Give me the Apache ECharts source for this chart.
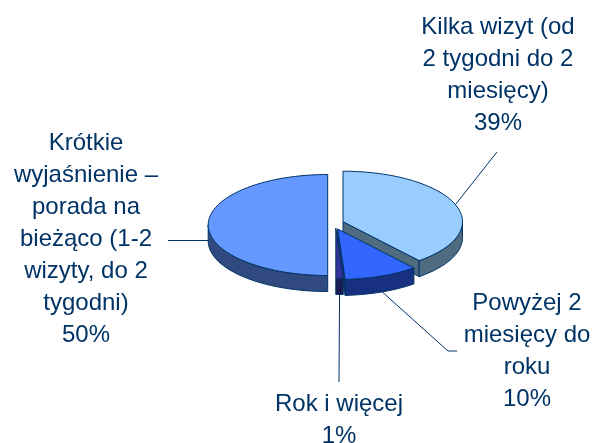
<!DOCTYPE html>
<html>
<head>
<meta charset="utf-8">
<style>
  html, body { margin: 0; padding: 0; background: #fff; }
  #chart { width: 593px; height: 443px; }
</style>
<script src="https://cdn.jsdelivr.net/npm/echarts@6/dist/echarts.min.js"></script>
</head>
<body>
<div id="chart"></div>
<script>
  // dane
  var categories = [
    'Kilka wizyt (od\n2 tygodni do 2\nmiesięcy)',
    'Powyżej 2\nmiesięcy do\nroku',
    'Rok i więcej',
    'Krótkie\nwyjaśnienie –\nporada na\nbieżąco (1-2\nwizyty, do 2\ntygodni)'
  ]
  var values = [39, 10, 1, 50]

  // wyglad
  var topColors = ['#99ccff', '#3366ff', '#333399', '#6699ff']
  var wallColors = ['#4f6b80', '#17307f', '#1a1a55', '#30497f']
  var lineColor = '#003366'
  var centerX = 335.5
  var centerY = 225
  var radiusX = 119.5
  var radiusY = 50.5
  var depth = 16
  var explode = [[7.5, -3.3], [2.2, 4], [0.3, 3], [-7.8, 0]]
  var labelCenters = [[498, 75.5], [527, 351], [339, 420.5], [86, 239.5]]
  var leaderEnds = [[[497, 152]], [[448, 351], [457, 351]], [[339, 382]], [[168, 240.5]]]
  var leaderOnWall = [0, 1, 1, 1]

  var total = values.reduce(function (a, b) { return a + b }, 0)

  function rad (deg) { return deg * Math.PI / 180 }

  // punkt na obwodzie, kat liczony od godziny 12 zgodnie z zegarem
  function rim (ax, ay, deg, drop) {
    return [ax + radiusX * Math.sin(rad(deg)), ay - radiusY * Math.cos(rad(deg)) + (drop || 0)]
  }

  function arc (ax, ay, from, to, drop) {
    var pts = []
    var steps = Math.max(2, Math.ceil((to - from) / 2))
    for (var i = 0; i <= steps; i++) {
      pts.push(rim(ax, ay, from + (to - from) * i / steps, drop))
    }
    return pts
  }

  function face (points, fill) {
    return {
      type: 'polygon',
      shape: { points: points },
      style: { fill: fill, stroke: lineColor, lineWidth: 1, lineJoin: 'round' }
    }
  }

  function renderSlice (params, api) {
    var i = params.dataIndex
    var before = values.slice(0, i).reduce(function (a, b) { return a + b }, 0)
    var start = before / total * 360
    var end = start + api.value(0) / total * 360
    var mid = (start + end) / 2
    var ax = centerX + explode[i][0]
    var ay = centerY + explode[i][1]
    var children = []

    // linia odniesienia
    var leader = [rim(ax, ay, mid, leaderOnWall[i] * (depth - 0.5))].concat(leaderEnds[i])
    children.push({
      type: 'polyline',
      shape: { points: leader },
      style: { fill: null, stroke: lineColor, lineWidth: 1 }
    })

    // sciany ciecia
    ;[start, end].forEach(function (deg, k) {
      var visible = k === 0 ? Math.sin(rad(deg)) < -0.01 : Math.sin(rad(deg)) > 0.01
      if (visible) {
        var p = rim(ax, ay, deg)
        children.push(face([[ax, ay], p, [p[0], p[1] + depth], [ax, ay + depth]], wallColors[i]))
      }
    })

    // sciana zewnetrzna, tylko przednia polowa
    var wallFrom = Math.max(start, 90)
    var wallTo = Math.min(end, 270)
    if (wallTo > wallFrom) {
      var upper = arc(ax, ay, wallFrom, wallTo, 0)
      var lower = arc(ax, ay, wallFrom, wallTo, depth).reverse()
      children.push(face(upper.concat(lower), wallColors[i]))
    }

    // wierzch
    children.push(face([[ax, ay]].concat(arc(ax, ay, start, end, 0)), topColors[i]))

    // etykieta
    children.push({
      type: 'text',
      style: {
        text: categories[i] + '\n' + api.value(0) + '%',
        x: labelCenters[i][0],
        y: labelCenters[i][1],
        align: 'center',
        verticalAlign: 'middle',
        fill: lineColor,
        font: '24px "Liberation Sans"',
        lineHeight: 32
      }
    })

    return { type: 'group', children: children }
  }

  var chart = echarts.init(document.getElementById('chart'), null, { renderer: 'canvas' })
  chart.setOption({
    backgroundColor: '#ffffff',
    animation: false,
    series: [{
      type: 'custom',
      coordinateSystem: 'none',
      data: values.map(function (v) { return [v] }),
      renderItem: renderSlice
    }]
  })
</script>
</body>
</html>
